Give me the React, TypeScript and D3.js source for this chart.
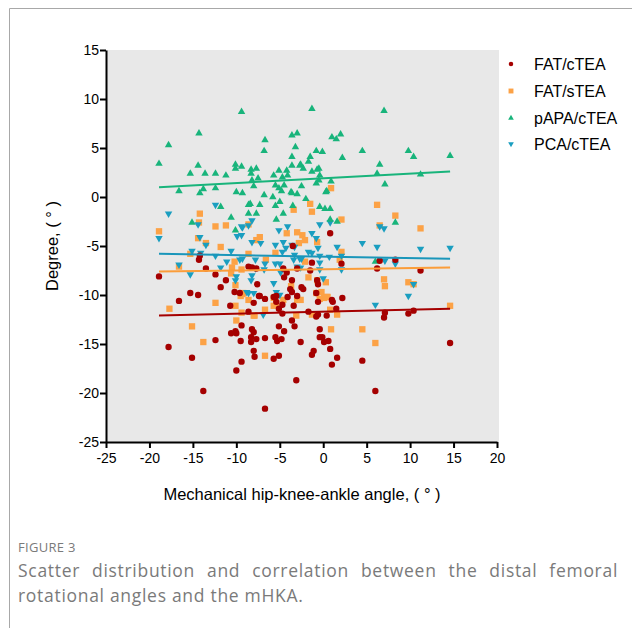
import React, { useEffect, useRef } from 'react'
import * as d3 from 'd3'

type Pt = [number, number]

// axis ticks
const xTicks = [-25, -20, -15, -10, -5, 0, 5, 10, 15, 20]
const yTicks = [-25, -20, -15, -10, -5, 0, 5, 10, 15]

const seriesNames = ['FAT/cTEA', 'FAT/sTEA', 'pAPA/cTEA', 'PCA/cTEA']

// FAT/cTEA (dark red circles)
const fatCTea: Pt[] = [
  [-14.2, -6.0], [-14.3, -6.4], [-13.5, -7.3], [-18.9, -8.1], [-12.4, -7.9], [-11.2, -8.5], [-11.8, -9.2],
  [-16.6, -10.6], [-15.3, -9.8], [-14.4, -10.0], [-10.2, -9.7], [-10.7, -11.1], [-8.6, -7.1],
  [-8.0, -10.8], [-8.6, -11.7], [-7.4, -10.1], [-9.4, -13.1], [-10.6, -13.9], [-10.1, -13.7], [-10.0, -13.9],
  [-8.2, -13.5], [-8.0, -13.8], [-8.3, -14.3], [-7.7, -14.5], [-8.3, -14.8], [-9.5, -14.7], [-12.4, -14.6],
  [-17.8, -15.3], [-15.1, -16.4], [-8.0, -15.7], [-7.9, -16.3], [-9.4, -16.8], [-10.0, -17.7], [-13.8, -19.8],
  [-7.3, -10.1], [-6.7, -10.4], [-5.7, -10.2], [-5.4, -10.7], [-4.7, -11.0], [-5.1, -11.4], [-4.7, -11.9],
  [-3.4, -11.1], [-4.1, -10.2], [-3.6, -9.7], [-3.0, -10.1], [-0.8, -9.8], [-0.6, -10.7], [1.1, -10.7],
  [1.5, -11.4], [2.2, -10.3], [-1.7, -11.7], [-0.8, -12.2], [-0.6, -12.0], [0.4, -12.1], [-3.6, -12.6],
  [-5.1, -13.2], [-3.3, -13.2], [-4.5, -13.7], [-6.7, -14.4], [-5.5, -14.3], [-5.3, -14.7], [-4.8, -14.5],
  [-2.6, -14.8], [-0.4, -13.5], [-0.4, -14.3], [-0.1, -14.3], [0.1, -14.8], [0.6, -14.7], [0.8, -15.5],
  [-1.1, -15.7], [-1.3, -16.1], [1.6, -16.4], [1.0, -17.1], [4.5, -16.7], [-5.1, -16.2], [-5.7, -16.5],
  [-3.1, -18.7], [-6.7, -21.6], [0.8, -3.7], [-3.5, -5.0], [-1.3, -6.7], [-3.0, -7.3], [-1.5, -7.5],
  [2.1, -6.8], [-8.2, -7.2], [-7.7, -7.3], [-4.6, -7.3], [-4.2, -7.7], [-4.5, -8.2], [-3.6, -8.5],
  [-0.7, -8.5], [-0.6, -8.9], [-7.6, -8.9], [-3.8, -9.4], [-2.5, -9.2], [-2.3, -9.4], [-5.4, -10.1],
  [-9.6, -9.8], [1.0, -10.5], [6.5, -6.5], [8.3, -6.4], [6.2, -7.3], [11.2, -7.5], [7.1, -11.8],
  [7.0, -12.3], [9.8, -11.9], [10.4, -11.6], [14.6, -14.9], [6.0, -19.8]
]

// FAT/sTEA (orange squares)
const fatSTea: Pt[] = [
  [-14.2, -1.7], [-14.3, -2.6], [-18.9, -3.5], [-12.4, -3.0], [-11.2, -2.9], [-8.6, -2.8], [-14.4, -4.2],
  [-13.5, -4.7], [-11.8, -5.1], [-15.3, -5.8], [-16.6, -7.1], [-10.2, -6.6], [-10.5, -7.2], [-10.6, -7.8],
  [-8.6, -5.8], [-10.1, -9.0], [-9.3, -9.9], [-9.5, -10.1], [-8.6, -10.5], [-12.4, -10.8], [-17.7, -11.4],
  [-10.1, -11.1], [-15.1, -13.2], [-13.8, -14.8], [-10.0, -12.6], [-9.4, -11.8], [-7.9, -12.1],
  [-2.6, -10.5], [-0.8, -9.8], [-0.2, -9.7], [0.4, -10.2], [0.1, -10.3], [-5.7, -11.1], [-5.4, -10.8],
  [-6.7, -11.5], [-8.0, -12.1], [-3.1, -12.1], [-1.3, -12.0], [0.8, -11.5], [1.6, -12.0], [0.9, -13.5],
  [4.5, -13.5], [-6.7, -16.2], [6.2, -0.8], [8.3, -1.9], [2.1, -2.3], [6.5, -2.9], [11.2, -3.2],
  [2.1, -5.6], [7.0, -8.4], [7.1, -9.1], [9.8, -8.7], [10.4, -8.9], [14.6, -11.1], [6.0, -14.9], [0.9, 0.9],
  [-1.5, -0.7], [-1.3, -1.5], [-3.4, -1.3], [-7.3, -4.1], [-7.7, -4.4], [-4.2, -3.7], [-3.0, -3.6],
  [-2.4, -3.9], [-2.1, -4.4], [-2.8, -4.7], [-0.7, -4.6], [-5.5, -5.7], [-6.6, -6.4], [1.9, -6.4],
  [-2.1, -6.6], [-9.4, -7.4], [-1.7, -8.2], [-0.7, -8.5], [0.3, -8.7], [-3.7, -9.1], [-9.2, -9.8],
  [-5.7, -10.3], [-4.6, -10.5], [-3.0, -10.5], [-0.4, -10.4], [0.5, -10.2]
]

// pAPA/cTEA (green up triangles)
const papaCTea: Pt[] = [
  [-9.4, 8.7], [-14.3, 6.5], [-17.8, 5.3], [-18.9, 3.4], [-6.8, 4.7], [-6.7, 5.8], [-3.6, 6.3], [-3.0, 6.5],
  [-3.2, 5.1], [-3.6, 4.1], [-3.6, 3.2], [-14.4, 3.2], [-15.3, 2.4], [-13.6, 2.4], [-12.4, 2.4], [-11.2, 2.2],
  [-10.1, 3.3], [-10.1, 2.9], [-9.4, 3.1], [-8.3, 2.8], [-7.7, 2.9], [-8.3, 2.4], [-8.2, 1.7], [-8.0, 1.1],
  [-7.5, 1.9], [-5.7, 2.2], [-5.1, 2.7], [-4.7, 2.0], [-4.2, 2.7], [-4.1, 2.2], [-5.5, 1.2], [-5.1, 0.9],
  [-4.5, 1.2], [-4.8, 0.6], [-16.6, 0.6], [-13.8, 0.8], [-14.2, 0.4], [-12.4, 0.9], [-10.0, 0.5], [-9.3, 0.4],
  [-6.8, 0.2], [-5.8, 0.0], [-3.7, 0.5], [-3.0, 0.3], [-2.7, 3.2], [-1.3, 9.0], [7.0, 8.8], [1.0, 6.1],
  [1.5, 5.9], [2.0, 6.4], [-0.8, 4.7], [-0.1, 4.6], [-1.5, 4.1], [-1.7, 3.6], [2.2, 4.0], [4.5, 4.7],
  [9.8, 4.7], [10.4, 4.1], [14.6, 4.2], [6.5, 3.3], [-2.6, 3.3], [-2.3, 2.9], [-1.3, 2.6], [-0.7, 2.8],
  [-0.5, 2.9], [-0.4, 2.2], [-0.8, 1.4], [-0.5, 1.7], [-2.5, 1.1], [0.9, 1.6], [6.2, 2.4], [11.2, 2.3],
  [7.1, 1.3], [0.3, 0.5], [-3.6, 0.4], [-11.8, -1.0], [-15.1, -2.6], [-10.6, -2.1], [-10.1, -3.4],
  [-8.6, -0.8], [-8.6, -1.7], [-8.4, -0.7], [-7.3, -0.8], [-5.5, -0.9], [-5.0, -0.5], [-4.6, -1.7],
  [-3.5, -0.9], [-0.4, -1.0], [0.2, -1.2], [0.8, -1.2], [-7.7, -1.7], [-5.4, -2.3], [0.8, -2.3],
  [1.6, -2.5], [8.3, -2.6], [6.0, -6.6], [0.4, 0.6], [-2.0, -0.2]
]

// PCA/cTEA (blue down triangles)
const pcaCTea: Pt[] = [
  [-17.8, -1.7], [-18.9, -4.2], [-14.4, -2.8], [-14.2, -4.1], [-12.4, -0.8], [-13.5, -4.9], [-15.1, -5.5],
  [-14.1, -5.7], [-12.4, -6.0], [-10.6, -5.5], [-9.9, -4.0], [-9.3, -3.1], [-8.6, -2.9], [-11.1, -6.6],
  [-11.8, -7.2], [-16.6, -6.9], [-15.3, -7.9], [-10.0, -8.1], [-10.1, -8.5], [-9.3, -6.3], [-8.6, -9.8],
  [-9.4, -3.0], [-8.2, -2.4], [-5.1, -3.4], [-4.1, -3.0], [-9.4, -3.9], [-8.2, -4.6], [-7.2, -4.7],
  [-5.5, -4.9], [-4.6, -4.6], [-4.3, -5.2], [-4.7, -5.6], [-3.6, -4.9], [-1.3, -3.7], [-0.4, -2.8],
  [-0.8, -4.2], [0.8, -2.6], [1.6, -5.1], [-0.6, -5.2], [-1.7, -5.6], [-1.3, -5.7], [-3.3, -5.9],
  [-2.5, -6.3], [-0.4, -6.0], [-0.4, -6.7], [0.7, -6.1], [2.1, -6.0], [2.1, -7.4], [-7.8, -6.4],
  [-6.7, -6.8], [-7.8, -7.3], [-5.5, -6.8], [-5.0, -6.8], [-3.4, -6.4], [-2.7, -6.3], [-9.6, -6.4],
  [-8.2, -8.0], [-8.3, -8.5], [-6.8, -7.4], [-5.7, -8.8], [-0.4, -7.4], [0.0, -8.3], [-8.8, -9.7],
  [-8.0, -9.8], [-5.4, -9.7], [-5.0, -10.0], [6.5, -3.0], [7.0, -3.2], [4.5, -4.7], [6.2, -5.1],
  [11.2, -5.3], [14.6, -5.2], [7.1, -6.5], [8.3, -6.8], [10.4, -8.9], [9.8, -10.1], [6.0, -11.0],
  [-6.9, -12.0], [-3.0, -7.1], [-2.6, -7.2], [-4.9, -7.7], [-3.3, -5.1]
]

// regression lines, read at both ends
const fitX = [-18.9, 14.6]
const fitFatCTea = [-12.1, -11.4]
const fitFatSTea = [-7.6, -7.2]
const fitPapaCTea = [1.0, 2.6]
const fitPcaCTea = [-5.8, -6.3]

const captionLine1 = 'Scatter distribution and correlation between the distal femoral'
const captionLine2 = 'rotational angles and the mHKA.'

export default function App() {
  const svgRef = useRef<SVGSVGElement | null>(null)

  useEffect(() => {
    if (!svgRef.current) return
    const svg = d3.select(svgRef.current)
    svg.selectAll('*').remove()

    const width = 644
    const height = 628
    const left = 106, right = 497, top = 50, bottom = 442

    svg.attr('width', width).attr('height', height)

    // outer frame (top + left)
    svg.append('path')
      .attr('d', `M9.5,${height} V8.5 H632`)
      .attr('fill', 'none')
      .attr('stroke', '#a8a8a8')
      .attr('stroke-width', 1)

    const x = d3.scaleLinear().domain([-25, 20]).range([left, right])
    const y = d3.scaleLinear().domain([-25, 15]).range([bottom, top])

    svg.append('rect')
      .attr('x', left).attr('y', top)
      .attr('width', right - left + 2).attr('height', bottom - top)
      .attr('fill', '#e8e8e8')

    const font = '"Liberation Sans", Arial, sans-serif'

    const series = [
      { name: seriesNames[0], data: fatCTea, fit: fitFatCTea, color: '#a50000', line: '#a50000', shape: d3.symbolCircle, size: 32, legSize: 16, rot: 0 },
      { name: seriesNames[1], data: fatSTea, fit: fitFatSTea, color: '#fca246', line: '#fb9d3a', shape: d3.symbolSquare, size: 40, legSize: 24, rot: 0 },
      { name: seriesNames[2], data: papaCTea, fit: fitPapaCTea, color: '#18b47b', line: '#18b47b', shape: d3.symbolTriangle, size: 24, legSize: 14, rot: 0 },
      { name: seriesNames[3], data: pcaCTea, fit: fitPcaCTea, color: '#1a9ec0', line: '#1a96ba', shape: d3.symbolTriangle, size: 24, legSize: 14, rot: 180 }
    ]

    // points
    const drawOrder = [1, 3, 2, 0]
    drawOrder.forEach(i => {
      const s = series[i]
      svg.append('g')
        .selectAll('path')
        .data(s.data)
        .enter()
        .append('path')
        .attr('d', d3.symbol().type(s.shape).size(s.size)())
        .attr('transform', d => `translate(${x(d[0])},${y(d[1])}) rotate(${s.rot})`)
        .attr('fill', s.color)
    })

    // regression lines
    const lineGen = d3.line<number>().x((_, i) => x(fitX[i])).y(d => y(d))
    series.forEach(s => {
      svg.append('path')
        .attr('d', lineGen(s.fit))
        .attr('fill', 'none')
        .attr('stroke', s.line)
        .attr('stroke-width', 2)
    })

    // axes
    const xAxis = svg.append('g')
      .attr('transform', `translate(0,${bottom})`)
      .call(d3.axisBottom(x).tickValues(xTicks).tickSize(6).tickSizeOuter(0).tickFormat(d => String(d)))
    const yAxis = svg.append('g')
      .attr('transform', `translate(${left},0)`)
      .call(d3.axisLeft(y).tickValues(yTicks).tickSize(6).tickSizeOuter(0).tickFormat(d => String(d)))
    ;[xAxis, yAxis].forEach(ax => {
      ax.select('.domain').attr('stroke', '#000').attr('stroke-width', 2)
      ax.selectAll('.tick line').attr('stroke', '#000').attr('stroke-width', 2)
      ax.selectAll('.tick text')
        .style('font-family', font)
        .style('font-size', '14px')
        .attr('fill', '#000')
    })
    xAxis.selectAll('.tick text').attr('dy', '0.71em').attr('y', 11)
    yAxis.selectAll('.tick text').attr('x', -7)

    // axis titles
    svg.append('text')
      .attr('x', 302).attr('y', 500)
      .attr('text-anchor', 'middle')
      .style('font-family', font).style('font-size', '16.5px')
      .text('Mechanical hip-knee-ankle angle, ( ° )')

    svg.append('text')
      .attr('transform', 'rotate(-90)')
      .attr('x', -246).attr('y', 58)
      .attr('text-anchor', 'middle')
      .style('font-family', font).style('font-size', '16.5px')
      .text('Degree, ( ° )')

    // legend
    const legY = [64, 91, 118, 144]
    series.forEach((s, i) => {
      svg.append('path')
        .attr('d', d3.symbol().type(s.shape).size(s.legSize)())
        .attr('transform', `translate(511,${legY[i]}) rotate(${s.rot})`)
        .attr('fill', s.color)
      svg.append('text')
        .attr('x', 534).attr('y', legY[i] + 6)
        .style('font-family', font).style('font-size', '16px')
        .text(s.name)
    })

    // caption
    const capFont = '"Open Sans", "Noto Sans", sans-serif'
    svg.append('text')
      .attr('x', 18).attr('y', 552)
      .style('font-family', capFont).style('font-size', '13px')
      .style('letter-spacing', '0.3px')
      .attr('fill', '#7a7a7a')
      .text('FIGURE 3')

    const l1 = svg.append('text')
      .attr('x', 18).attr('y', 577)
      .style('font-family', capFont).style('font-size', '17.5px')
      .style('letter-spacing', '0.7px')
      .attr('fill', '#7a7a7a')
      .text(captionLine1)
    const node = l1.node() as SVGTextElement
    const len = node.getComputedTextLength()
    const gaps = captionLine1.split(' ').length - 1
    const target = 600
    if (len < target) l1.style('word-spacing', `${(target - len) / gaps}px`)

    svg.append('text')
      .attr('x', 18).attr('y', 602)
      .style('font-family', capFont).style('font-size', '17.5px')
      .style('letter-spacing', '0.7px')
      .attr('fill', '#7a7a7a')
      .text(captionLine2)
  }, [])

  return (
    <svg ref={svgRef} style={{ position: 'absolute', left: 0, top: 0, background: '#fff' }}></svg>
  )
}
